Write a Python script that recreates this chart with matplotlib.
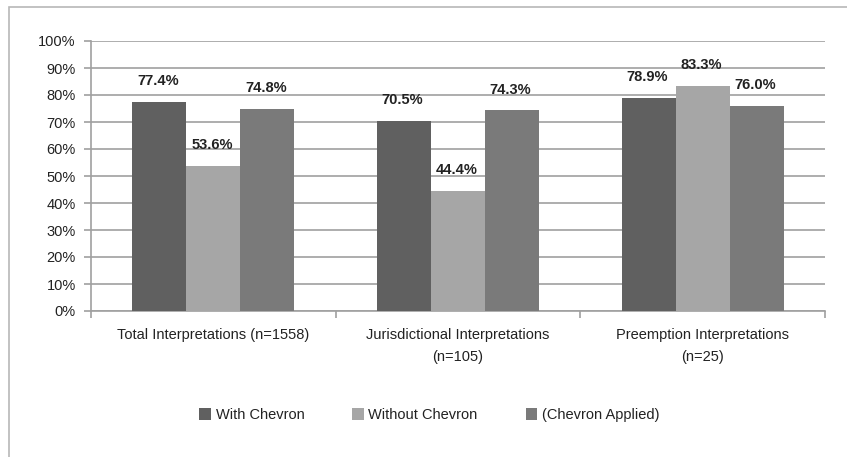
import numpy as np
import matplotlib.pyplot as plt
from matplotlib import ticker
from matplotlib.patches import Rectangle

categories = ['Total Interpretations (n=1558)',
              'Jurisdictional Interpretations\n(n=105)',
              'Preemption Interpretations\n(n=25)']
series_names = ['With Chevron', 'Without Chevron', '(Chevron Applied)']
with_chevron = [77.4, 70.5, 78.9]
without_chevron = [53.6, 44.4, 83.3]
chevron_applied = [74.8, 74.3, 76.0]
colors = ['#606060', '#a6a6a6', '#7a7a7a']

plt.rcParams['font.family'] = ['Liberation Sans', 'DejaVu Sans']

fig = plt.figure(figsize=(8.47, 4.57), dpi=100)
fig.patches.append(Rectangle((9 / 847, -0.1), 1.2, 1 - 7 / 457 + 0.1,
                             transform=fig.transFigure, fill=False,
                             edgecolor='#b8b8b8', linewidth=1.2))
ax = fig.add_axes([91 / 847, 1 - 311 / 457, (825 - 91) / 847, (311 - 41) / 457])

x = np.arange(len(categories)) + 0.5
width = 0.221
for i, (vals, name) in enumerate(zip([with_chevron, without_chevron, chevron_applied], series_names)):
    pos = x + (i - 1) * width
    ax.bar(pos, vals, width, color=colors[i], label=name, zorder=3)
    for px, v in zip(pos, vals):
        ax.annotate(f'{v:.1f}%', (px, v), xytext=(-1, 10), textcoords='offset points',
                    ha='center', va='bottom', fontsize=10.5, fontweight='bold', color='#222222')

ax.set_xlim(0, 3)
ax.set_ylim(0, 100)
ax.set_yticks(range(0, 101, 10))
ax.yaxis.set_major_formatter(ticker.FuncFormatter(lambda v, p: f'{int(v)}%'))
ax.set_xticks([0, 1, 2, 3])
ax.set_xticklabels([])
ax.set_xticks(x, minor=True)
ax.set_xticklabels(categories, minor=True, fontsize=10.5, color='#222222', linespacing=1.75)
ax.tick_params(axis='x', which='minor', length=0, pad=12)
ax.tick_params(axis='x', which='major', length=5, color='#a0a0a0', width=1.2)
ax.tick_params(axis='y', length=5, color='#a0a0a0', width=1.2, labelsize=10.5,
               labelcolor='#222222', pad=6)
ax.yaxis.grid(True, color='#a0a0a0', linewidth=1.2, zorder=0)
for side in ['top', 'right']:
    ax.spines[side].set_visible(False)
for side in ['left', 'bottom']:
    ax.spines[side].set_color('#a0a0a0')
    ax.spines[side].set_linewidth(1.2)
ax.set_axisbelow(True)

fig.legend(loc='center', bbox_to_anchor=(0.507, 1 - 415 / 457), ncol=3, frameon=False,
           fontsize=10.5, handlelength=0.8, handleheight=0.8, handletextpad=0.3,
           columnspacing=3.3, labelcolor='#222222')

fig.savefig('out.png', dpi=100)
